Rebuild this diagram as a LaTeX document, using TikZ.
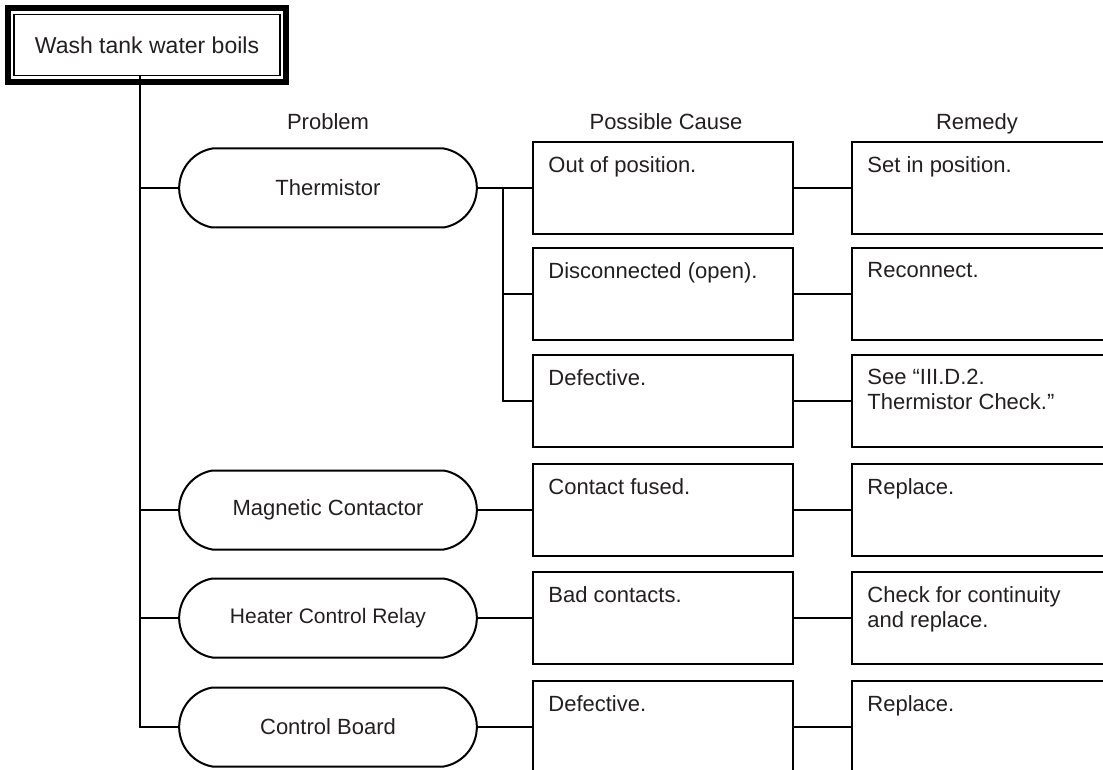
\documentclass[tikz,border=0pt]{standalone}
\usepackage{fontspec}
\setmainfont{Liberation Sans}
\usepackage{xcolor}
\usepackage{tikz}
\usetikzlibrary{shapes.misc,positioning}
\definecolor{ink}{HTML}{231F20}

\begin{document}
\begin{tikzpicture}[x=0.5pt,y=-0.5pt,
  every node/.style={text=ink, font=\fontsize{11}{12.5}\selectfont},
  prob/.style={draw, line width=1pt, rounded rectangle, rounded rectangle arc length=160,
    minimum width=155.5pt, minimum height=39.5pt},
  cbox/.style={draw, line width=1pt, minimum width=130pt, minimum height=46pt},
  txt/.style={anchor=north west, inner sep=0pt, align=left, xshift=8pt, yshift=-7.5pt},
  head/.style={anchor=base},
  link/.style={line width=0.7pt}]
  \useasboundingbox (0,0) rectangle (1103,770);
  \clip (0,0) rectangle (1103,770);
  \node[draw, line width=0.75pt, minimum width=133pt, minimum height=30.5pt,
    font=\fontsize{11.5}{13}\selectfont] (wb) at (147,45) {Wash tank water boils};
  \draw[line width=3pt] ([shift={(-5.5,-5.5)}]wb.north west) rectangle ([shift={(5.5,5.5)}]wb.south east);
  \node[head] (hp) at (328,130) {Problem};
  \node[head] (hc) at (666,130) {Possible Cause};
  \node[head] (hr) at (977,130) {Remedy};
  \node[prob] (therm) at (328,188) {Thermistor};
  \node[prob] (mag) at (328,510) {Magnetic Contactor};
  \node[prob, font=\fontsize{10.5}{12}\selectfont] (relay) at (328,618) {Heater Control Relay};
  \node[prob] (board) at (328,727) {Control Board};
  \node[cbox] (c1) at (663,188) {};
  \node[txt] (c1t) at (c1.north west) {Out of position.};
  \node[cbox] (c2) at (663,294) {};
  \node[txt] (c2t) at (c2.north west) {Disconnected (open).};
  \node[cbox] (c3) at (663,401) {};
  \node[txt] (c3t) at (c3.north west) {Defective.};
  \node[cbox] (c4) at (663,510) {};
  \node[txt] (c4t) at (c4.north west) {Contact fused.};
  \node[cbox] (c5) at (663,618) {};
  \node[txt] (c5t) at (c5.north west) {Bad contacts.};
  \node[cbox] (c6) at (663,727) {};
  \node[txt] (c6t) at (c6.north west) {Defective.};
  \node[cbox] (r1) at (982,188) {};
  \node[txt] (r1t) at (r1.north west) {Set in position.};
  \node[cbox] (r2) at (982,294) {};
  \node[txt] (r2t) at (r2.north west) {Reconnect.};
  \node[cbox] (r3) at (982,401) {};
  \node[txt] (r3t) at (r3.north west) {See “III.D.2.\\Thermistor Check.”};
  \node[cbox] (r4) at (982,510) {};
  \node[txt] (r4t) at (r4.north west) {Replace.};
  \node[cbox] (r5) at (982,618) {};
  \node[txt] (r5t) at (r5.north west) {Check for continuity\\and replace.};
  \node[cbox] (r6) at (982,727) {};
  \node[txt] (r6t) at (r6.north west) {Replace.};
  \coordinate (trunk) at (140,0);
  \coordinate (fork) at (503,0);
  \draw[link] (wb.south -| trunk) |- (board.west);
  \draw[link] (therm.west -| trunk) -- (therm.west);
  \draw[link] (mag.west -| trunk) -- (mag.west);
  \draw[link] (relay.west -| trunk) -- (relay.west);
  \draw[link] (therm.east) -- (c1.west);
  \draw[link] (therm.east -| fork) |- (c3.west);
  \draw[link] (c2.west -| fork) -- (c2.west);
  \draw[link] (mag.east) -- (c4.west);
  \draw[link] (relay.east) -- (c5.west);
  \draw[link] (board.east) -- (c6.west);
  \draw[link] (c1.east) -- (r1.west);
  \draw[link] (c2.east) -- (r2.west);
  \draw[link] (c3.east) -- (r3.west);
  \draw[link] (c4.east) -- (r4.west);
  \draw[link] (c5.east) -- (r5.west);
  \draw[link] (c6.east) -- (r6.west);
\end{tikzpicture}
\end{document}
